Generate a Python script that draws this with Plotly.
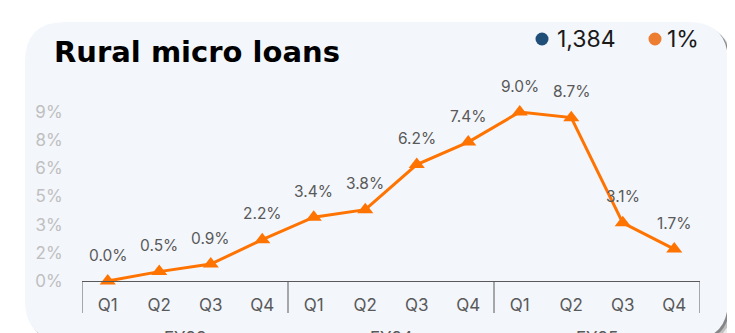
import plotly.graph_objects as go

# ---- data ----
fiscal_years = ["FY23"] * 4 + ["FY24"] * 4 + ["FY25"] * 4
quarters = ["Q1", "Q2", "Q3", "Q4"] * 3
growth_pct = [0.0, 0.5, 0.9, 2.2, 3.4, 3.8, 6.2, 7.4, 9.0, 8.7, 3.1, 1.7]
y_tickvals = [0, 1.5, 3, 4.5, 6, 7.5, 9]
y_ticktext = ["0%", "2%", "3%", "5%", "6%", "8%", "9%"]
legend_labels = ["1,384", "1%"]
legend_colors = ["#1F4E79", "#ED7D31"]
title_text = "Rural micro loans"

# ---- layout geometry (pixels in the 735x333 window) ----
WIN_W, WIN_H = 735, 333
OFF = 8  # default page body margin
W, H = WIN_W - OFF, WIN_H - OFF
PL, PR, PT, PB = 82, 700, 100, 281
YMAX = 9 * (PB - PT) / (PB - 112)
FONT = "Inter"
TEXT_GRAY = "#595959"

positions = list(range(len(quarters)))


def px(x):
    return (x - PL) / (PR - PL)


def py(y):
    return (PB - y) / (PB - PT)


def rounded_path(L, T, R, B, r):
    pts = [
        ("M", [(L + r, T)]),
        ("L", [(R - r, T)]),
        ("Q", [(R, T), (R, T + r)]),
        ("L", [(R, B - r)]),
        ("Q", [(R, B), (R - r, B)]),
        ("L", [(L + r, B)]),
        ("Q", [(L, B), (L, B - r)]),
        ("L", [(L, T + r)]),
        ("Q", [(L, T), (L + r, T)]),
    ]
    s = ""
    for cmd, ps in pts:
        s += cmd + " " + " ".join(f"{px(a):.5f},{py(b):.5f}" for a, b in ps) + " "
    return s + "Z"


fig = go.Figure()

fig.add_trace(go.Scatter(
    x=positions,
    y=growth_pct,
    mode="lines+markers",
    line=dict(color="#FF7300", width=3),
    marker=dict(symbol="triangle-up", size=14, color="#FF7300"),
    showlegend=False,
    hoverinfo="skip",
    cliponaxis=False,
))

shapes = []
# card shadow layers
for off, col in [(6, "rgba(0,0,0,0.08)"), (4, "rgba(0,0,0,0.18)"), (2, "rgba(0,0,0,0.30)")]:
    shapes.append(dict(type="path", xref="paper", yref="paper", layer="below",
                       path=rounded_path(25 + off, 22 + off, 728 + off, 340 + off, 40),
                       fillcolor=col, line=dict(width=0)))
# card
shapes.append(dict(type="path", xref="paper", yref="paper", layer="below",
                   path=rounded_path(25, 22, 728, 340, 40),
                   fillcolor="#F3F6FB", line=dict(width=0)))

# group dividers and group labels, derived from the fiscal year list
groups = []
for i, fy in enumerate(fiscal_years):
    if not groups or groups[-1][0] != fy:
        groups.append([fy, i, i])
    else:
        groups[-1][2] = i
boundaries = [g[1] - 0.5 for g in groups] + [groups[-1][2] + 0.5]
for b in boundaries:
    shapes.append(dict(type="line", xref="x", yref="paper", x0=b, x1=b,
                       y0=0, y1=py(313), line=dict(color=TEXT_GRAY, width=1)))

annotations = []
for fy, a, b in groups:
    annotations.append(dict(x=(a + b) / 2, y=py(338), xref="x", yref="paper", text=fy,
                            showarrow=False, xanchor="center", yanchor="middle",
                            font=dict(family=FONT, size=17, color=TEXT_GRAY)))
# data labels
for i, v in zip(positions, growth_pct):
    annotations.append(dict(x=i, y=v, xref="x", yref="y", text=f"{v:.1f}%",
                            showarrow=False, yshift=26,
                            font=dict(family=FONT, size=15.5, color=TEXT_GRAY)))
# title
annotations.append(dict(x=px(52), y=py(52), xref="paper", yref="paper", text=f"<b>{title_text}</b>",
                        showarrow=False, xanchor="left", yanchor="middle",
                        font=dict(family="DejaVu Sans", size=29, color="#000000")))
# legend
leg_dot_x = [542, 655]
leg_txt_x = [555, 665]
for lab, col, dx, tx in zip(legend_labels, legend_colors, leg_dot_x, leg_txt_x):
    shapes.append(dict(type="circle", xref="paper", yref="paper",
                       x0=px(dx - 6.5), x1=px(dx + 6.5), y0=py(39 - 6.5), y1=py(39 + 6.5),
                       fillcolor=col, line=dict(width=0)))
    annotations.append(dict(x=px(tx), y=py(39), xref="paper", yref="paper", text=lab,
                            showarrow=False, xanchor="left", yanchor="middle",
                            font=dict(family=FONT, size=23, color="#1A1A1A")))

fig.update_layout(
    width=W, height=H,
    margin=dict(l=PL - OFF, r=WIN_W - PR, t=PT - OFF, b=WIN_H - PB, pad=0, autoexpand=False),
    paper_bgcolor="#FFFFFF",
    plot_bgcolor="rgba(0,0,0,0)",
    shapes=shapes,
    annotations=annotations,
    showlegend=False,
    xaxis=dict(
        automargin=False,
        range=[-0.5, len(quarters) - 0.5],
        tickvals=positions, ticktext=quarters,
        showline=True, linecolor=TEXT_GRAY, linewidth=1,
        showgrid=False, zeroline=False,
        tickfont=dict(family=FONT, size=17, color=TEXT_GRAY),
        ticks="outside", ticklen=9, tickcolor="rgba(0,0,0,0)",
    ),
    yaxis=dict(
        automargin=False,
        range=[0, YMAX],
        tickvals=y_tickvals, ticktext=y_ticktext,
        showgrid=False, zeroline=False, showline=False,
        tickfont=dict(family=FONT, size=17, color="#BFBFBF"),
        ticks="outside", ticklen=15, tickcolor="rgba(0,0,0,0)",
    ),
)

fig.write_html("out.html")
